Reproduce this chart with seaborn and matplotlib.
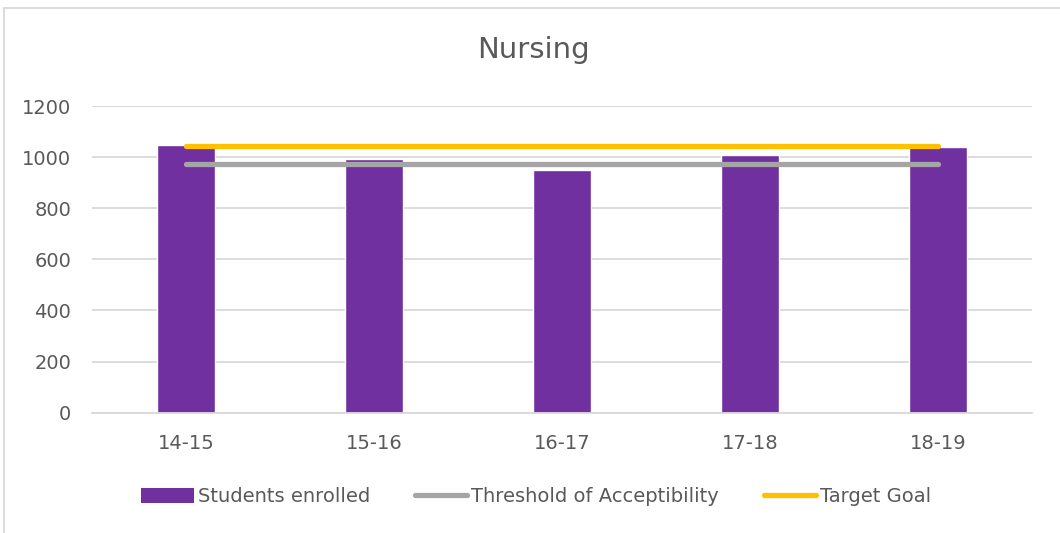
import pandas as pd
import seaborn as sns
import matplotlib.pyplot as plt
from matplotlib.patches import Patch
from matplotlib.lines import Line2D

# values
years = ["14-15", "15-16", "16-17", "17-18", "18-19"]
enrolled = [1048, 992, 949, 1009, 1039]
threshold = [973, 973, 973, 973, 973]
target = [1044, 1044, 1044, 1044, 1044]

PURPLE = "#7030A0"
GREY = "#A5A5A5"
GOLD = "#FFC000"
TEXT = "#595959"
GRID = "#D9D9D9"

sns.set_theme(style="white")
plt.rcParams["font.family"] = ["DejaVu Sans"]

df = pd.DataFrame({"year": years, "enrolled": enrolled,
                   "threshold": threshold, "target": target})

fig = plt.figure(figsize=(10.6, 5.33), dpi=100)
ax = fig.add_axes([92 / 1060, 1 - 412.7 / 533, 940 / 1060, 306.7 / 533])

sns.barplot(data=df, x="year", y="enrolled", color=PURPLE, width=0.31,
            saturation=1, ax=ax, zorder=2)
sns.lineplot(data=df, x="year", y="threshold", color=GREY, linewidth=3.8,
             solid_capstyle="round", ax=ax, zorder=3)
sns.lineplot(data=df, x="year", y="target", color=GOLD, linewidth=3.8,
             solid_capstyle="round", ax=ax, zorder=3)

ax.set_xlim(-0.5, len(years) - 0.5)
ax.set_ylim(0, 1200)
ax.set_yticks(range(0, 1201, 200))
ax.yaxis.grid(True, color=GRID, linewidth=1.3)
ax.set_axisbelow(True)
for s in ["top", "right", "left"]:
    ax.spines[s].set_visible(False)
ax.spines["bottom"].set_color(GRID)
ax.spines["bottom"].set_linewidth(1.3)
ax.set_xlabel("")
ax.set_ylabel("")
ax.tick_params(axis="both", length=0, labelsize=14, labelcolor=TEXT)
ax.tick_params(axis="x", pad=15)
ax.tick_params(axis="y", pad=15)

fig.text(0.503, 1 - 50 / 533, "Nursing", ha="center", va="center",
         fontsize=21, color=TEXT)

handles = [
    Patch(facecolor=PURPLE, edgecolor="none"),
    Line2D([0], [0], color=GREY, linewidth=3.8, solid_capstyle="round"),
    Line2D([0], [0], color=GOLD, linewidth=3.8, solid_capstyle="round"),
]
labels = ["Students enrolled", "Threshold of Acceptibility", "Target Goal"]
leg = fig.legend(handles, labels, loc="center", bbox_to_anchor=(0.506, 1 - 497 / 533),
                 ncol=3, frameon=False, fontsize=14, handlelength=2.7,
                 handleheight=0.8, handletextpad=0.2, columnspacing=2.3,
                 labelcolor=TEXT)

# light chart-area border
fig.add_artist(Line2D([4 / 1060, 4 / 1060], [0, 1 - 8 / 533], color=GRID, linewidth=1.3))
fig.add_artist(Line2D([4 / 1060, 1], [1 - 8 / 533, 1 - 8 / 533], color=GRID, linewidth=1.3))

fig.savefig("out.png", dpi=100, facecolor="white")
